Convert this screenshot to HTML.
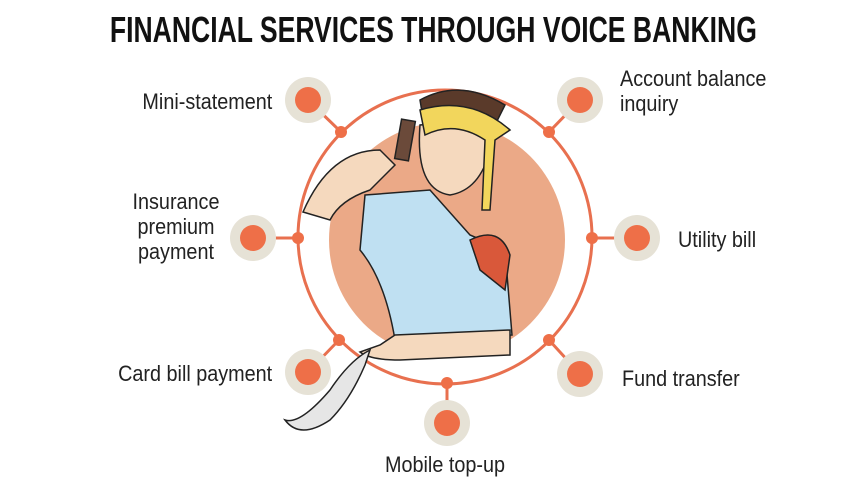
<!DOCTYPE html>
<html><head><style>
body{margin:0;background:#fff;width:860px;height:484px;overflow:hidden;position:relative;font-family:"Liberation Sans",sans-serif}
.t{position:absolute;font-size:22px;color:#222;line-height:25px;white-space:nowrap;transform:scaleX(0.9)}
.l{transform-origin:left top}
.r{transform-origin:right top;text-align:right}
.c{transform-origin:center top;text-align:center}
</style></head><body>
<div style="position:absolute;left:0;width:860px;top:9px;text-align:center;white-space:nowrap"><span style="display:inline-block;font-weight:bold;font-size:36px;color:#111;transform:scaleX(0.738);transform-origin:center;position:relative;left:-5px">FINANCIAL SERVICES THROUGH VOICE BANKING</span></div>
<svg width="860" height="484" style="position:absolute;left:0;top:0">
<circle cx="447" cy="240" r="118" fill="#EBA987"/>
<circle cx="445" cy="237" r="147" fill="none" stroke="#E8704F" stroke-width="3"/>
<g stroke="#E8704F" stroke-width="3">
<line x1="341" y1="132" x2="308" y2="100"/><line x1="549" y1="132" x2="580" y2="100"/>
<line x1="298" y1="238" x2="253" y2="238"/><line x1="592" y1="238" x2="637" y2="238"/>
<line x1="339" y1="340" x2="308" y2="372"/><line x1="549" y1="340" x2="580" y2="374"/>
<line x1="447" y1="383" x2="447" y2="423"/>
</g>
<g fill="#E6E2D6">
<circle cx="308" cy="100" r="23"/><circle cx="580" cy="100" r="23"/><circle cx="253" cy="238" r="23"/><circle cx="637" cy="238" r="23"/><circle cx="308" cy="372" r="23"/><circle cx="580" cy="374" r="23"/><circle cx="447" cy="423" r="23"/>
</g>
<g fill="#EE6F48">
<circle cx="308" cy="100" r="13"/><circle cx="580" cy="100" r="13"/><circle cx="253" cy="238" r="13"/><circle cx="637" cy="238" r="13"/><circle cx="308" cy="372" r="13"/><circle cx="580" cy="374" r="13"/><circle cx="447" cy="423" r="13"/>
<circle cx="341" cy="132" r="6"/><circle cx="549" cy="132" r="6"/><circle cx="298" cy="238" r="6"/><circle cx="592" cy="238" r="6"/><circle cx="339" cy="340" r="6"/><circle cx="549" cy="340" r="6"/><circle cx="447" cy="383" r="6"/>
</g>
<g stroke="#222" stroke-width="1.5">
<path d="M303 212 Q330 150 380 150 L395 165 L370 190 Q340 200 330 220 Z" fill="#F5D9BE"/>
<path d="M365 195 L430 190 L470 235 L505 250 L512 335 L395 340 Q385 280 360 250 Z" fill="#BFE0F2"/>
<path d="M470 240 Q500 225 510 255 L505 290 L480 270 Z" fill="#D9583A"/>
<path d="M395 335 L510 330 L510 355 L400 360 Q370 360 360 352 L380 345 Z" fill="#F5D9BE"/>
<path d="M420 125 Q415 190 450 195 Q480 190 490 150 L485 120 Z" fill="#F5D9BE"/>
<path d="M420 100 Q460 78 505 105 L495 125 L425 130 Z" fill="#5A3A2A"/>
<path d="M420 110 Q470 95 510 130 L495 140 L490 210 L482 210 L485 140 Q455 120 425 135 Z" fill="#F2D65C"/>
<rect x="398" y="120" width="14" height="40" fill="#6B4A3A" transform="rotate(10 405 140)"/>
<path d="M370 350 Q350 360 330 390 Q300 425 285 420 Q300 440 330 420 Q350 400 365 365 Z" fill="#E6E6E6"/>
</g>
</svg>
<div class="t r" style="right:588px;top:89px">Mini-statement</div>
<div class="t l" style="left:620px;top:66px">Account balance<br>inquiry</div>
<div class="t c" style="left:126px;width:100px;top:189px">Insurance<br>premium<br>payment</div>
<div class="t l" style="left:678px;top:227px">Utility bill</div>
<div class="t r" style="right:588px;top:361px">Card bill payment</div>
<div class="t l" style="left:622px;top:366px">Fund transfer</div>
<div class="t c" style="left:345px;width:200px;top:452px">Mobile top-up</div>
</body></html>
